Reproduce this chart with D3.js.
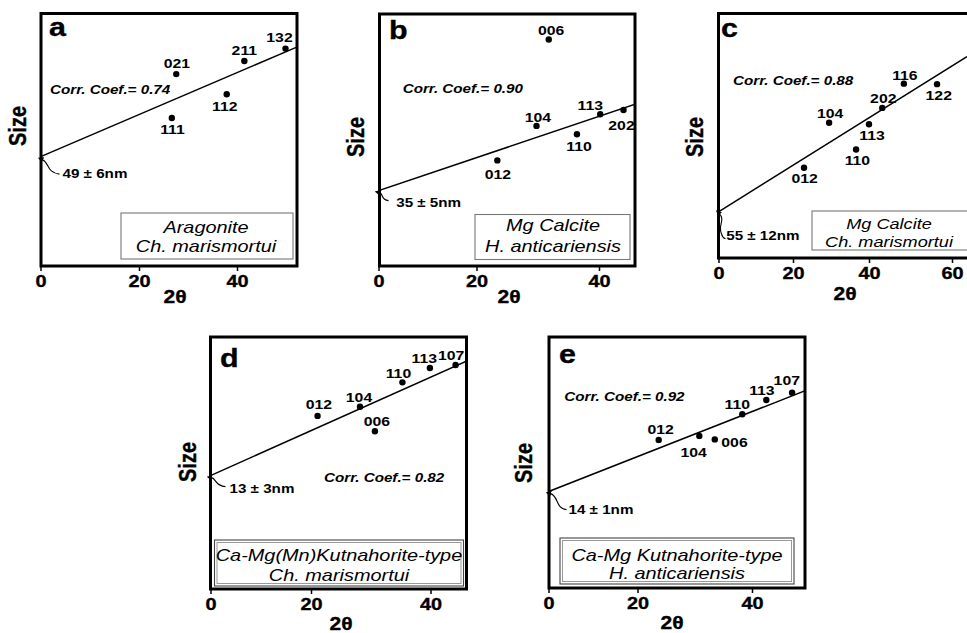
<!DOCTYPE html>
<html><head><meta charset="utf-8">
<script src="https://cdn.jsdelivr.net/npm/d3@7"></script>
<style>
body{margin:0;background:#fff}
svg{display:block}
text{font-family:"Liberation Sans",Arial,Helvetica,sans-serif;fill:#000}
text.heavy{stroke:#000;stroke-width:0.35px}
</style>
</head><body>
<svg id="chart" width="967" height="633"></svg>
<script>
// ---------------- DATA ----------------
const ticks3 = [0, 20, 40];
const ticks4 = [0, 20, 40, 60];

// a: Aragonite, Ch. marismortui
const hklA = ["021", "111", "112", "211", "132"];
const xA = [27.6, 26.7, 37.9, 41.5, 49.9];
const yA = [76.0, 58.6, 68.0, 81.2, 86.1];
const fitXA = [0, 52.2], fitYA = [43.3, 86.7];

// b: Mg Calcite, H. anticariensis
const hklB = ["006", "104", "012", "110", "113", "202"];
const xB = [31.8, 29.8, 23.4, 36.4, 40.2, 44.0];
const yB = [89.9, 55.6, 41.9, 52.3, 60.2, 61.9];
const fitXB = [0, 45.9], fitYB = [29.9, 64.2];

// c: Mg Calcite, Ch. marismortui
const hklC = ["012", "104", "110", "113", "202", "116", "122"];
const xC = [22.9, 29.5, 36.6, 40.0, 43.2, 48.4, 56.4];
const yC = [36.9, 55.3, 44.4, 54.7, 61.4, 71.3, 71.1];
const fitXC = [0, 63.6], fitYC = [18.9, 82.4];

// d: Ca-Mg(Mn) Kutnahorite-type, Ch. marismortui
const hklD = ["012", "104", "006", "110", "113", "107"];
const xD = [21.1, 28.2, 30.7, 35.3, 39.9, 44.2];
const yD = [68.7, 72.3, 62.6, 82.0, 87.7, 88.9];
const fitXD = [0, 46.1], fitYD = [45.0, 90.5];

// e: Ca-Mg Kutnahorite-type, H. anticariensis
const hklE = ["012", "104", "006", "110", "113", "107"];
const xE = [23.7, 30.8, 33.5, 38.3, 42.5, 47.0];
const yE = [59.0, 60.6, 59.2, 69.2, 74.9, 77.8];
const fitXE = [0, 49.3], fitYE = [38.4, 78.6];

const panelLetters = ["a", "b", "c", "d", "e"];
const corrTexts = ["Corr. Coef.= 0.74", "Corr. Coef.= 0.90", "Corr. Coef.= 0.88", "Corr. Coef.= 0.82", "Corr. Coef.= 0.92"];
const interceptTexts = ["49 \u00b1 6nm", "35 \u00b1 5nm", "55 \u00b1 12nm", "13 \u00b1 3nm", "14 \u00b1 1nm"];
const captions = [
  ["Aragonite", "Ch. marismortui"],
  ["Mg Calcite", "H. anticariensis"],
  ["Mg Calcite", "Ch. marismortui"],
  ["Ca-Mg(Mn)Kutnahorite-type", "Ch. marismortui"],
  ["Ca-Mg Kutnahorite-type", "H. anticariensis"]
];
const xTitle = "2\u03b8", yTitle = "Size";

// ---------------- LAYOUT ----------------
const SX = 1.17; // horizontal stretch of the original figure's lettering
const panels = [
  {hkl: hklA, xs: xA, ys: yA, fx: fitXA, fy: fitYA, ticks: ticks3,
   frame: {L: 41, T: 13.5, R: 297, B: 266}, xr: [40.5, 139, 237],
   lab: [[0.7, -6], [0.6, 16], [-2, 16.4], [0, -6], [-6, -6.4]],
   letter: [49, 35.5], corr: [50, 94], size: [19, 126], title: [175, 303],
   box: {x0: 121, x1: 293, y0: 213, y1: 259, cx: 206, b1: 233, b2: 252, fs: 17, dbl: false},
   ilab: [22, 21], curl: "M2,3 C9,6 6,16 19,17.5"},
  {hkl: hklB, xs: xB, ys: yB, fx: fitXB, fy: fitYB, ticks: ticks3,
   frame: {L: 379.5, T: 14, R: 635, B: 266}, xr: [378.5, 476.5, 599],
   lab: [[2.3, -4], [1.3, -4], [0.6, 18.5], [2, 16.4], [-10, -4], [-2, 20]],
   letter: [389, 39], corr: [402.7, 93.3], size: [357, 137], title: [509, 303],
   box: {x0: 475, x1: 630, y0: 214.5, y1: 259.5, cx: 553, b1: 231, b2: 252.3, fs: 17, dbl: false},
   ilab: [17.7, 16.6], curl: "M1,2 C5,3 2,9 10,10"},
  {hkl: hklC, xs: xC, ys: yC, fx: fitXC, fy: fitYC, ticks: ticks4,
   frame: {L: 718.5, T: 13.5, R: 995, B: 258}, xr: [718.5, 793, 869, 952],
   lab: [[0.7, 15.4], [1, -5], [1.3, 16], [3, 16], [1, -5], [1, -4], [1.7, 15.7]],
   letter: [721, 36.5], corr: [733, 85], size: [696, 137], title: [845, 300],
   box: {x0: 812, x1: 985, y0: 211, y1: 250, cx: 889, b1: 229, b2: 247, fs: 15.5, dbl: false},
   ilab: [7.7, 28.3], curl: "M1,2 C7,8 -1,14 3,22 Q4,26 7,27"},
  {hkl: hklD, xs: xD, ys: yD, fx: fitXD, fy: fitYD, ticks: ticks3,
   frame: {L: 210.5, T: 337, R: 466.5, B: 589}, xr: [210.5, 311, 430.5],
   lab: [[1.3, -7], [-1, -5], [2, -5], [-4, -4], [-5.7, -4.7], [-4.4, -5]],
   letter: [220, 367], corr: [324, 482.3], size: [189, 462], title: [341, 630],
   box: {x0: 214.5, x1: 463.5, y0: 540, y1: 586, cx: 339, b1: 560.7, b2: 580.7, fs: 17, dbl: true},
   ilab: [19, 17], curl: "M1,2 C6,3 4,10 15,11"},
  {hkl: hklE, xs: xE, ys: yE, fx: fitXE, fy: fitYE, ticks: ticks3,
   frame: {L: 549, T: 337, R: 805, B: 588}, xr: [548.5, 637.5, 752],
   lab: [[2, -6], [-5.6, 20.7], [19.7, 7.4], [-5, -5], [-4.4, -5], [-5.3, -7.7]],
   letter: [559, 363], corr: [564.3, 400.7], size: [525, 463], title: [672, 628.5],
   box: {x0: 560, x1: 794, y0: 538, y1: 584, cx: 677, b1: 560.7, b2: 579.3, fs: 17, dbl: true},
   ilab: [20, 22.3], curl: "M2,2 C10,4 7,17 18,18"}
];

// ---------------- DRAW ----------------
const svg = d3.select("#chart");
const defs = svg.append("defs");
defs.append("marker")
  .attr("id", "ah").attr("viewBox", "0 0 10 10").attr("refX", 1).attr("refY", 5)
  .attr("markerWidth", 5).attr("markerHeight", 5).attr("orient", "auto-start-reverse")
  .append("path").attr("d", "M0,0 L10,5 L0,10 z").attr("fill", "#000");

function stretchText(sel, x, y, rot) {
  sel.attr("transform", `translate(${x},${y}) scale(${SX},1)` + (rot ? ` rotate(${rot})` : ""));
  return sel;
}

panels.forEach((p, i) => {
  const g = svg.append("g");
  const f = p.frame;
  const x = d3.scaleLinear().domain(p.ticks).range(p.xr);
  const y = d3.scaleLinear().domain([0, 100]).range([f.B, f.T]);

  // legend box
  const bx = p.box;
  g.append("rect").attr("x", bx.x0).attr("y", bx.y0).attr("width", bx.x1 - bx.x0).attr("height", bx.y1 - bx.y0)
    .attr("fill", "#fff").attr("stroke", bx.dbl ? "#444" : "#777").attr("stroke-width", 1.1);
  if (bx.dbl) {
    g.append("rect").attr("x", bx.x0 + 2.5).attr("y", bx.y0 + 2.5).attr("width", bx.x1 - bx.x0 - 5).attr("height", bx.y1 - bx.y0 - 5)
      .attr("fill", "none").attr("stroke", "#999").attr("stroke-width", 1);
  }
  [bx.b1, bx.b2].forEach((b, k) => {
    stretchText(g.append("text"), bx.cx, b)
      .attr("text-anchor", "middle").attr("font-size", bx.fs).attr("font-style", "italic")
      .text(captions[i][k]);
  });

  // frame
  g.append("rect").attr("x", f.L).attr("y", f.T).attr("width", f.R - f.L).attr("height", f.B - f.T)
    .attr("fill", "none").attr("stroke", "#000").attr("stroke-width", 3);

  // x axis
  const ax = g.append("g").attr("transform", `translate(0,${f.B})`)
    .call(d3.axisBottom(x).tickValues(p.ticks).tickSize(5).tickPadding(4).tickFormat(d3.format("d")));
  ax.select(".domain").remove();
  ax.selectAll(".tick line").attr("stroke", "#000").attr("stroke-width", 1.5);
  ax.selectAll(".tick text").attr("class", "heavy").attr("font-size", 17).attr("font-weight", "bold")
    .attr("font-family", "'Liberation Sans',Arial,sans-serif").attr("fill", "#000")
    .attr("transform", `scale(${SX},1)`);

  // axis titles
  stretchText(g.append("text"), p.title[0], p.title[1]).attr("class", "heavy")
    .attr("text-anchor", "middle").attr("font-size", 18).attr("font-weight", "bold").text(xTitle);
  stretchText(g.append("text"), p.size[0] + 7, p.size[1], -90).attr("class", "heavy")
    .attr("text-anchor", "middle").attr("font-size", 20).attr("font-weight", "bold").text(yTitle);

  // panel letter
  stretchText(g.append("text"), p.letter[0], p.letter[1]).attr("class", "heavy")
    .attr("font-size", 26).attr("font-weight", "bold").text(panelLetters[i]);

  // regression line (clipped to frame)
  const clipId = "clip" + i;
  defs.append("clipPath").attr("id", clipId)
    .append("rect").attr("x", f.L).attr("y", f.T).attr("width", f.R - f.L).attr("height", f.B - f.T);
  const fitPts = p.fx.map((v, k) => [v, p.fy[k]]);
  g.append("path").datum(fitPts)
    .attr("d", d3.line().x(d => x(d[0])).y(d => y(d[1])))
    .attr("clip-path", `url(#${clipId})`)
    .attr("fill", "none").attr("stroke", "#000").attr("stroke-width", 1.5);

  // intercept annotation
  const x0 = x(p.fx[0]), y0 = y(p.fy[0]);
  g.append("path").attr("d", p.curl).attr("transform", `translate(${x0},${y0})`)
    .attr("fill", "none").attr("stroke", "#000").attr("stroke-width", 1.1)
    .attr("marker-start", "url(#ah)");
  stretchText(g.append("text"), x0 + p.ilab[0], y0 + p.ilab[1])
    .attr("font-size", 13).attr("font-weight", "bold").text(interceptTexts[i]);

  // correlation text
  stretchText(g.append("text"), p.corr[0], p.corr[1])
    .attr("font-size", 13).attr("font-weight", "bold").attr("font-style", "italic").text(corrTexts[i]);

  // points
  const pts = p.hkl.map((h, k) => ({h, xv: p.xs[k], yv: p.ys[k], off: p.lab[k]}));
  g.selectAll("circle.pt").data(pts).join("circle").attr("class", "pt")
    .attr("cx", d => x(d.xv)).attr("cy", d => y(d.yv)).attr("r", 3.2).attr("fill", "#000");
  g.selectAll("text.hkl").data(pts).join("text").attr("class", "hkl")
    .attr("text-anchor", "middle").attr("font-size", 13.5).attr("font-weight", "bold")
    .attr("transform", d => `translate(${x(d.xv) + d.off[0]},${y(d.yv) + d.off[1]}) scale(${SX},1)`)
    .text(d => d.h);
});
</script>
</body></html>
